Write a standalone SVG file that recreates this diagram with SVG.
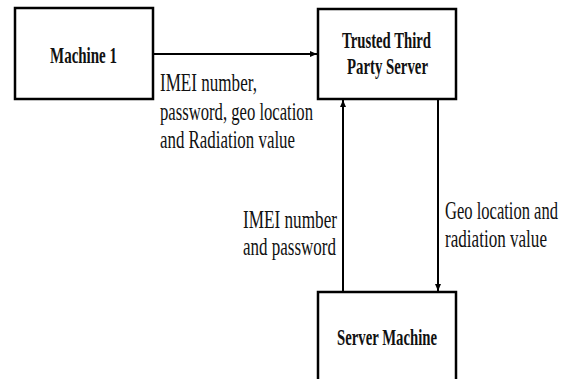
<svg xmlns="http://www.w3.org/2000/svg" width="573" height="379" viewBox="0 0 573 379">
<style>
.box{fill:#fff;stroke:#000;stroke-width:2.5}
.edge{fill:none;stroke:#000;stroke-width:2}
.t{font-family:"Liberation Serif","Times New Roman","DejaVu Serif",serif;font-size:25px;fill:#111}
.b{font-weight:bold;font-size:24px}
</style>
<defs>
<marker id="arr" markerUnits="userSpaceOnUse" markerWidth="8" markerHeight="7" refX="7" refY="3" orient="auto">
<path d="M0,0 L7,3 L0,6 z" fill="#000"/>
</marker>
</defs>
<rect width="573" height="379" fill="#fff"/>
<g id="connectors">
<line class="edge" x1="153" y1="54" x2="317" y2="54" marker-end="url(#arr)"/>
<line class="edge" x1="343" y1="292" x2="343" y2="100" marker-end="url(#arr)"/>
<line class="edge" x1="438" y1="99" x2="438" y2="291" marker-end="url(#arr)"/>
<text class="t" transform="translate(160,91) scale(0.7,1)" textLength="138.6" lengthAdjust="spacingAndGlyphs">IMEI number,</text>
<text class="t" transform="translate(160,120) scale(0.7,1)" textLength="218.6" lengthAdjust="spacingAndGlyphs">password, geo location</text>
<text class="t" transform="translate(160,148) scale(0.7,1)" textLength="192.9" lengthAdjust="spacingAndGlyphs">and Radiation value</text>
<text class="t" transform="translate(243,228) scale(0.7,1)" textLength="134.3" lengthAdjust="spacingAndGlyphs">IMEI number</text>
<text class="t" transform="translate(243,255) scale(0.7,1)" textLength="132.9" lengthAdjust="spacingAndGlyphs">and password</text>
<text class="t" transform="translate(445,219) scale(0.7,1)" textLength="161.4" lengthAdjust="spacingAndGlyphs">Geo location and</text>
<text class="t" transform="translate(445,247) scale(0.7,1)" textLength="145.7" lengthAdjust="spacingAndGlyphs">radiation value</text>
</g>
<g id="machine1">
<rect class="box" x="15" y="8" width="138" height="91"/>
<text class="t b" transform="translate(50,63) scale(0.7,1)" textLength="95.7" lengthAdjust="spacingAndGlyphs">Machine 1</text>
</g>
<g id="ttp">
<rect class="box" x="318" y="9" width="138" height="90"/>
<text class="t b" transform="translate(342,48) scale(0.7,1)" textLength="127.1" lengthAdjust="spacingAndGlyphs">Trusted Third</text>
<text class="t b" transform="translate(347,74) scale(0.7,1)" textLength="115.7" lengthAdjust="spacingAndGlyphs">Party Server</text>
</g>
<g id="server">
<rect class="box" x="318" y="292" width="138" height="100"/>
<text class="t b" transform="translate(337,345) scale(0.7,1)" textLength="142.9" lengthAdjust="spacingAndGlyphs">Server Machine</text>
</g>
</svg>
